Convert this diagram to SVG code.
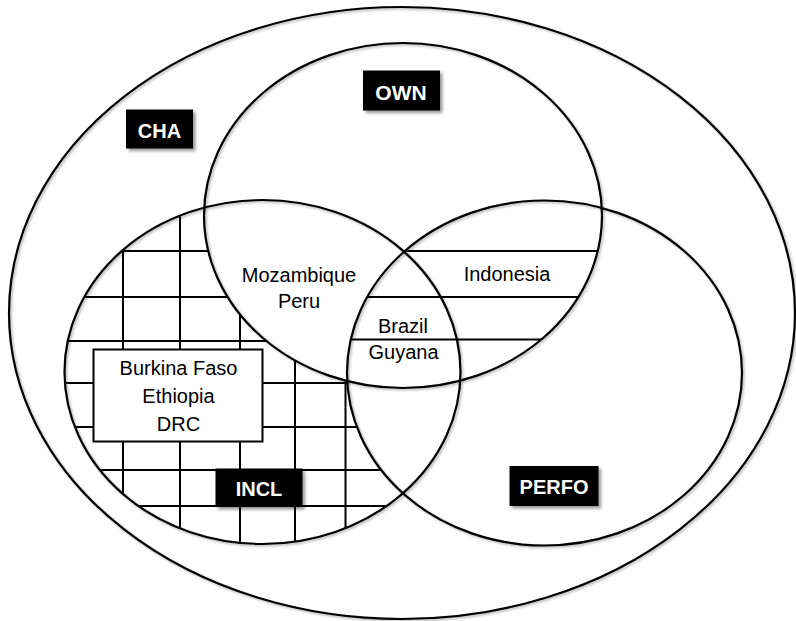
<svg xmlns="http://www.w3.org/2000/svg" width="796" height="621" viewBox="0 0 796 621">
<defs>
<style>
.ring{fill:none;stroke:#000;stroke-width:2.2}
.hatch line{stroke:#000;stroke-width:2}
.t{font-family:"Liberation Sans",Arial,sans-serif;font-size:20px;fill:#000;text-anchor:middle}
.lb rect{fill:#000}
.lb text{font-family:"Liberation Sans",Arial,sans-serif;font-weight:bold;font-size:20px;fill:#fff;text-anchor:middle}
</style>
<filter id="sh" x="-10%" y="-10%" width="130%" height="130%">
<feDropShadow dx="1.5" dy="1.5" stdDeviation="1.2" flood-color="#000" flood-opacity="0.3"/>
</filter>
<filter id="shb" x="-20%" y="-30%" width="150%" height="170%">
<feDropShadow dx="2.5" dy="2.5" stdDeviation="1.5" flood-color="#000" flood-opacity="0.4"/>
</filter>
<clipPath id="cIncl"><ellipse cx="262.5" cy="372" rx="198" ry="172"/></clipPath>
<clipPath id="cOwn"><ellipse cx="403" cy="215.5" rx="199" ry="172.5"/></clipPath>
<clipPath id="cPerf"><ellipse cx="544.5" cy="373" rx="197.5" ry="172.5"/></clipPath>
<mask id="mGrid">
<rect x="0" y="0" width="796" height="621" fill="#fff"/>
<ellipse cx="403" cy="215.5" rx="199" ry="172.5" fill="#000"/>
<ellipse cx="544.5" cy="373" rx="197.5" ry="172.5" fill="#000"/>
</mask>
</defs>
<rect x="0" y="0" width="796" height="621" fill="#fff"/>

<g id="CHA">
<ellipse class="ring" cx="402" cy="313" rx="393" ry="306" filter="url(#sh)"/>
</g>

<g id="INCL-hatch" class="hatch" clip-path="url(#cIncl)">
<g mask="url(#mGrid)">
<line x1="0" y1="251" x2="796" y2="251"/>
<line x1="0" y1="297" x2="796" y2="297"/>
<line x1="0" y1="341" x2="796" y2="341"/>
<line x1="0" y1="383" x2="796" y2="383"/>
<line x1="0" y1="427" x2="796" y2="427"/>
<line x1="0" y1="470" x2="796" y2="470"/>
<line x1="0" y1="506" x2="796" y2="506"/>
<line x1="123" y1="0" x2="123" y2="621"/>
<line x1="180" y1="0" x2="180" y2="621"/>
<line x1="240" y1="0" x2="240" y2="621"/>
<line x1="295" y1="0" x2="295" y2="621"/>
<line x1="345.5" y1="0" x2="345.5" y2="621"/>
</g>
</g>

<g id="OWN-PERFO-stripes" class="hatch" clip-path="url(#cOwn)">
<g clip-path="url(#cPerf)">
<line x1="0" y1="251" x2="796" y2="251"/>
<line x1="0" y1="297" x2="796" y2="297"/>
<line x1="0" y1="339.5" x2="796" y2="339.5"/>
</g>
</g>

<g id="OWN">
<ellipse class="ring" cx="403" cy="215.5" rx="199" ry="172.5" filter="url(#sh)"/>
</g>
<g id="INCL">
<ellipse class="ring" cx="262.5" cy="372" rx="198" ry="172" filter="url(#sh)"/>
</g>
<g id="PERFO">
<ellipse class="ring" cx="544.5" cy="373" rx="197.5" ry="172.5" filter="url(#sh)"/>
</g>

<g id="box-incl-only">
<rect x="93.5" y="349.5" width="169" height="92" fill="#fff" stroke="#000" stroke-width="2"/>
<text class="t" x="178.5" y="375">Burkina Faso</text>
<text class="t" x="178.5" y="403">Ethiopia</text>
<text class="t" x="178.5" y="431">DRC</text>
</g>

<g id="region-own-incl">
<text class="t" x="299" y="282">Mozambique</text>
<text class="t" x="299" y="308">Peru</text>
</g>
<g id="region-own-perfo">
<text class="t" x="507" y="281">Indonesia</text>
</g>
<g id="region-all">
<text class="t" x="403" y="333">Brazil</text>
<text class="t" x="403.5" y="359">Guyana</text>
</g>

<g id="label-CHA" class="lb">
<rect x="126" y="109.5" width="67" height="39" filter="url(#shb)"/>
<text x="159.5" y="137.5">CHA</text>
</g>
<g id="label-OWN" class="lb">
<rect x="363" y="70.5" width="77" height="40" filter="url(#shb)"/>
<text x="401" y="99.5" style="font-size:21px">OWN</text>
</g>
<g id="label-INCL" class="lb">
<rect x="215.5" y="468.5" width="87" height="38.5" filter="url(#shb)"/>
<text x="259" y="496">INCL</text>
</g>
<g id="label-PERFO" class="lb">
<rect x="509.5" y="466" width="89" height="40" filter="url(#shb)"/>
<text x="554" y="494">PERFO</text>
</g>
</svg>
